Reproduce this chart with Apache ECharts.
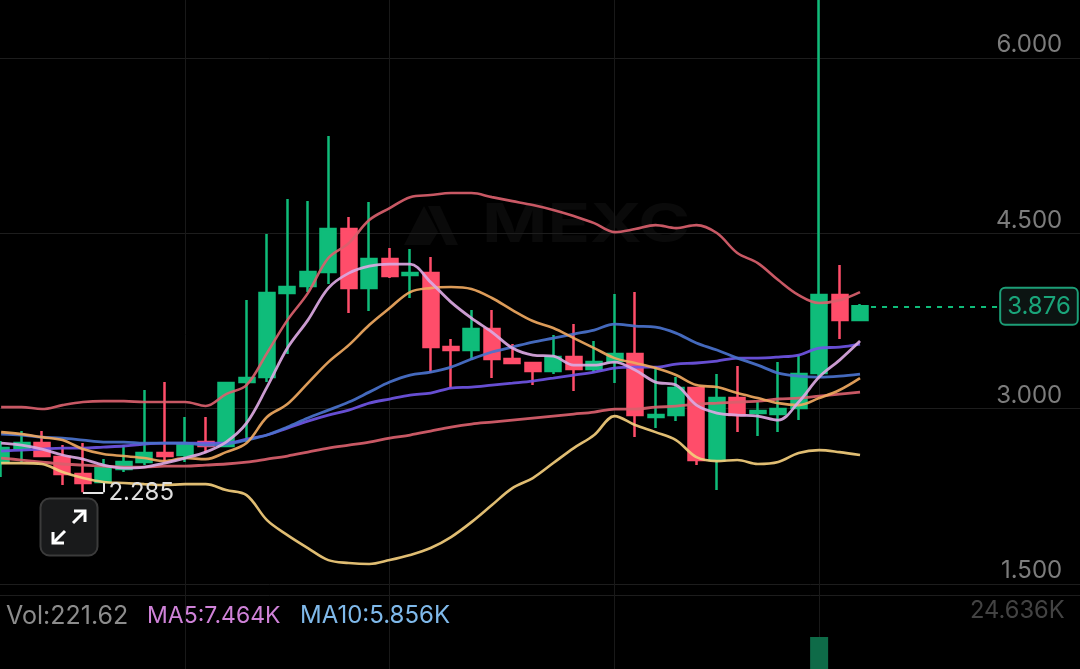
<!DOCTYPE html>
<html>
<head>
<meta charset="utf-8">
<style>html,body{margin:0;padding:0;background:#000}#main{width:1080px;height:669px}</style>
<script src="https://cdn.jsdelivr.net/npm/echarts@6/dist/echarts.min.js"></script>
</head>
<body>
<div id="main"></div>
<script>
// prices
var opens = [2.544,2.664,2.707,2.587,2.441,2.373,2.484,2.544,2.621,2.604,2.715,2.681,3.228,3.271,3.990,4.050,4.169,4.537,4.032,4.280,4.144,4.161,3.528,3.502,3.682,3.425,3.391,3.322,3.442,3.340,3.408,3.468,2.929,2.946,3.177,2.561,3.091,2.963,2.955,3.006,3.305,3.973,3.759]
var closes = [2.664,2.707,2.595,2.441,2.364,2.493,2.544,2.621,2.595,2.689,2.681,3.220,3.263,3.990,4.041,4.169,4.537,4.032,4.280,4.135,4.161,3.528,3.502,3.682,3.425,3.391,3.322,3.442,3.340,3.399,3.468,2.946,2.946,3.177,2.561,3.091,2.946,2.980,2.997,3.297,3.973,3.759,3.876]
var lows = [2.416,2.544,2.590,2.347,2.285,2.364,2.458,2.518,2.544,2.544,2.621,2.675,2.715,3.228,3.468,3.998,4.067,3.819,3.836,4.118,3.947,3.305,3.177,3.417,3.263,3.382,3.203,3.297,3.151,3.314,3.220,2.758,2.835,2.895,2.518,2.305,2.801,2.766,2.801,2.903,3.271,3.596,3.750]
var highs = [2.724,2.809,2.809,2.689,2.707,2.570,2.689,3.160,3.228,2.929,2.929,3.228,3.930,4.494,4.794,4.777,5.333,4.640,4.768,4.375,4.366,4.298,3.596,3.844,3.844,3.553,3.399,3.630,3.725,3.579,3.981,3.998,3.365,3.271,3.185,3.297,3.365,3.057,3.399,3.459,6.700,4.229,3.896]

var bandUpper = [3.014,3.014,2.997,3.031,3.057,3.065,3.065,3.057,3.057,3.057,3.023,3.125,3.202,3.476,3.758,3.989,4.289,4.417,4.614,4.716,4.810,4.828,4.845,4.845,4.810,4.776,4.742,4.700,4.648,4.588,4.511,4.537,4.571,4.545,4.571,4.503,4.332,4.246,4.101,3.972,3.904,3.929,3.998]
var bandLower = [2.535,2.535,2.527,2.458,2.407,2.373,2.364,2.355,2.347,2.355,2.355,2.304,2.261,2.047,1.919,1.808,1.705,1.680,1.671,1.705,1.748,1.808,1.902,2.030,2.176,2.321,2.407,2.535,2.663,2.775,2.937,2.860,2.800,2.732,2.586,2.552,2.561,2.527,2.544,2.621,2.646,2.629,2.604]
var maLilac = [2.706,2.689,2.655,2.604,2.569,2.518,2.492,2.501,2.535,2.578,2.629,2.715,2.877,3.185,3.519,3.758,4.032,4.160,4.220,4.237,4.237,4.083,3.912,3.775,3.656,3.519,3.459,3.450,3.373,3.373,3.399,3.331,3.228,3.202,3.031,2.963,2.946,2.937,2.903,3.057,3.271,3.416,3.579]
var maOrange = [2.800,2.783,2.757,2.732,2.655,2.612,2.595,2.578,2.552,2.578,2.569,2.629,2.706,2.929,3.040,3.219,3.399,3.544,3.716,3.861,3.998,4.032,4.041,4.024,3.947,3.844,3.750,3.690,3.604,3.519,3.433,3.391,3.348,3.288,3.202,3.185,3.134,3.091,3.048,3.031,3.091,3.160,3.262]
var maBlue = [2.783,2.775,2.757,2.749,2.732,2.715,2.715,2.706,2.706,2.706,2.689,2.698,2.732,2.775,2.843,2.920,2.988,3.057,3.142,3.228,3.288,3.314,3.356,3.425,3.485,3.527,3.570,3.604,3.639,3.673,3.724,3.707,3.698,3.647,3.562,3.502,3.433,3.373,3.305,3.279,3.271,3.279,3.296]
var maPurple = [2.638,2.646,2.655,2.663,2.663,2.672,2.681,2.698,2.706,2.706,2.706,2.706,2.740,2.775,2.834,2.894,2.946,2.988,3.048,3.083,3.117,3.134,3.177,3.185,3.202,3.219,3.237,3.262,3.288,3.314,3.348,3.356,3.356,3.382,3.391,3.408,3.433,3.433,3.442,3.459,3.519,3.527,3.553]
var maRed = [2.578,2.561,2.544,2.527,2.518,2.509,2.501,2.501,2.509,2.509,2.518,2.527,2.544,2.569,2.595,2.629,2.663,2.689,2.715,2.749,2.775,2.809,2.843,2.869,2.886,2.903,2.920,2.937,2.954,2.971,2.997,2.997,3.014,3.023,3.040,3.048,3.057,3.065,3.083,3.091,3.108,3.125,3.142]

// only the spike is visible, the rest is cut off by the crop
var volumes = [null,null,null,null,null,null,null,null,null,null,null,null,null,null,null,null,null,null,null,null,null,null,null,null,null,null,null,null,null,null,null,null,null,null,null,null,null,null,null,null,24636,null,221.62]

var lastPrice = 3.876
var lowPrice = 2.285
var lowIndex = 4
var gridCandles = [9, 19, 30, 40]
var slots = 54

var GREEN = '#0fbc7a', RED = '#ff4d6a'
var FONT = 'Inter'
var WATERMARK = '#0a0a0a'

var categories = []
for (var i = 0; i < slots; i++) categories.push(String(i))

var candles = opens.map(function (o, i) { return [o, closes[i], lows[i], highs[i]] })

function lineSeries(name, data, color, width) {
    return {
        name: name, type: 'line', data: data, xAxisIndex: 0, yAxisIndex: 0,
        symbol: 'none', smooth: 0.35, z: 5,
        lineStyle: { color: color, width: width, opacity: 0.92 }
    }
}

var myChart = echarts.init(document.getElementById('main'), null, { renderer: 'canvas' })
myChart.setOption({
    backgroundColor: '#000',
    animation: false,
    grid: [
        { left: -9.1, top: -117.3, width: slots * 20.45, height: 876.7, outerBoundsMode: 'none' },
        { left: -9.1, top: 595, width: slots * 20.45, height: 130, outerBoundsMode: 'none' }
    ],
    xAxis: [
        { type: 'category', data: categories, show: false, gridIndex: 0 },
        { type: 'category', data: categories, show: false, gridIndex: 1 }
    ],
    yAxis: [
        {
            type: 'value', gridIndex: 0, position: 'right', min: 0, max: 7.5, interval: 1.5,
            axisLine: { show: false }, axisTick: { show: false },
            splitLine: { lineStyle: { color: '#1d1d1d', width: 1 } },
            axisLabel: {
                inside: true, margin: 33, color: '#7c7c7c', fontFamily: FONT, fontSize: 24,
                verticalAlign: 'bottom', lineHeight: 26,
                showMinLabel: false, showMaxLabel: false,
                formatter: function (v) { return v.toFixed(3) }
            }
        },
        {
            type: 'value', gridIndex: 1, position: 'right', min: 0, max: 36394, interval: 36394,
            axisLine: { show: false }, axisTick: { show: false }, axisLabel: { show: false },
            splitLine: { lineStyle: { color: '#1d1d1d', width: 1 } }
        }
    ],
    series: [
        {
            // faint vertical grid, kept under the candles
            name: 'grid', type: 'line', data: [], xAxisIndex: 0, yAxisIndex: 0, z: 1,
            markLine: {
                silent: true, symbol: 'none', z: 1, label: { show: false },
                lineStyle: { color: '#191919', width: 1, type: 'solid' },
                data: gridCandles.map(function (c) { return { xAxis: String(c) } })
            }
        },
        {
            name: 'K', type: 'candlestick', data: candles, xAxisIndex: 0, yAxisIndex: 0,
            barWidth: 15.5, z: 3,
            itemStyle: { color: GREEN, color0: RED, borderColor: GREEN, borderColor0: RED, borderWidth: 2.5 },
            markLine: {
                silent: true, symbol: 'none', z: 6,
                data: [
                    [
                        {
                            coord: ['42', lastPrice],
                            lineStyle: { color: GREEN, width: 2, type: [5, 6] },
                            label: {
                                show: true, position: 'end', distance: -2, formatter: lastPrice.toFixed(3),
                                color: '#1aa57a', fontFamily: FONT, fontSize: 24,
                                backgroundColor: '#0c1412', borderColor: '#1c9e77', borderWidth: 2,
                                borderRadius: 4, padding: [6, 6, 5, 6]
                            }
                        },
                        { coord: ['49', lastPrice] }
                    ],
                    [
                        {
                            coord: [String(lowIndex), lowPrice],
                            lineStyle: { color: '#e6e6e6', width: 2, type: 'solid' },
                            label: {
                                show: true, position: 'end', distance: 5, formatter: lowPrice.toFixed(3),
                                color: '#dedede', fontFamily: FONT, fontSize: 24
                            }
                        },
                        { coord: [String(lowIndex + 1), lowPrice] }
                    ],
                    [
                        {
                            coord: [String(lowIndex + 1), lowPrice],
                            lineStyle: { color: '#e6e6e6', width: 2, type: 'solid' },
                            label: { show: false }
                        },
                        { coord: [String(lowIndex + 1), lows[lowIndex + 1]] }
                    ]
                ]
            }
        },
        lineSeries('bandUpper', bandUpper, '#d9606c', 2.6),
        lineSeries('maRed', maRed, '#d9606c', 2.8),
        lineSeries('bandLower', bandLower, '#f3cd7c', 2.6),
        lineSeries('maPurple', maPurple, '#6f55e4', 2.8),
        lineSeries('maBlue', maBlue, '#4a72cc', 2.8),
        lineSeries('maOrange', maOrange, '#efa85f', 2.6),
        lineSeries('maLilac', maLilac, '#dba8e2', 2.8),
        {
            name: 'Vol', type: 'bar', data: volumes, xAxisIndex: 1, yAxisIndex: 1,
            barWidth: 18, barGap: '-100%', itemStyle: { color: '#0e6b48' }
        }
    ],
    graphic: [
        // watermark
        {
            type: 'group', x: 0, y: 0, z: 0, silent: true, children: [
                { type: 'polygon', shape: { points: [[404, 245], [424, 206], [438, 232], [430, 245]] }, style: { fill: WATERMARK } },
                { type: 'polygon', shape: { points: [[428, 206], [440, 206], [458, 245], [446, 245]] }, style: { fill: WATERMARK } },
                { type: 'text', x: 482, y: 199, scaleX: 1.3, style: { text: 'MEXC', fill: WATERMARK, font: 'bold 54px ' + FONT } }
            ]
        },
        // legend row
        { type: 'text', x: 6, y: 604, style: { text: 'Vol:221.62', fill: '#8c8c8c', font: '25px ' + FONT } },
        { type: 'text', x: 147, y: 605, style: { text: 'MA5:7.464K', fill: '#cf82d8', font: '23px ' + FONT } },
        { type: 'text', x: 300, y: 604, style: { text: 'MA10:5.856K', fill: '#7fb9ea', font: '24px ' + FONT } },
        { type: 'text', x: 970, y: 599, style: { text: '24.636K', fill: '#434343', font: '23.7px ' + FONT } },
        // expand button
        {
            type: 'group', x: 0, y: 0, z: 20, children: [
                { type: 'rect', shape: { x: 40.5, y: 498.5, width: 57, height: 57, r: 9 }, style: { fill: '#191a1b', stroke: '#3b3b3b', lineWidth: 2 } },
                { type: 'polyline', shape: { points: [[73, 523], [85, 511]] }, style: { stroke: '#fff', lineWidth: 3, fill: null } },
                { type: 'polyline', shape: { points: [[74, 511], [85, 511], [85, 522]] }, style: { stroke: '#fff', lineWidth: 3, fill: null } },
                { type: 'polyline', shape: { points: [[65, 531], [53, 543]] }, style: { stroke: '#fff', lineWidth: 3, fill: null } },
                { type: 'polyline', shape: { points: [[53, 532], [53, 543], [64, 543]] }, style: { stroke: '#fff', lineWidth: 3, fill: null } }
            ]
        }
    ]
})
</script>
</body>
</html>
